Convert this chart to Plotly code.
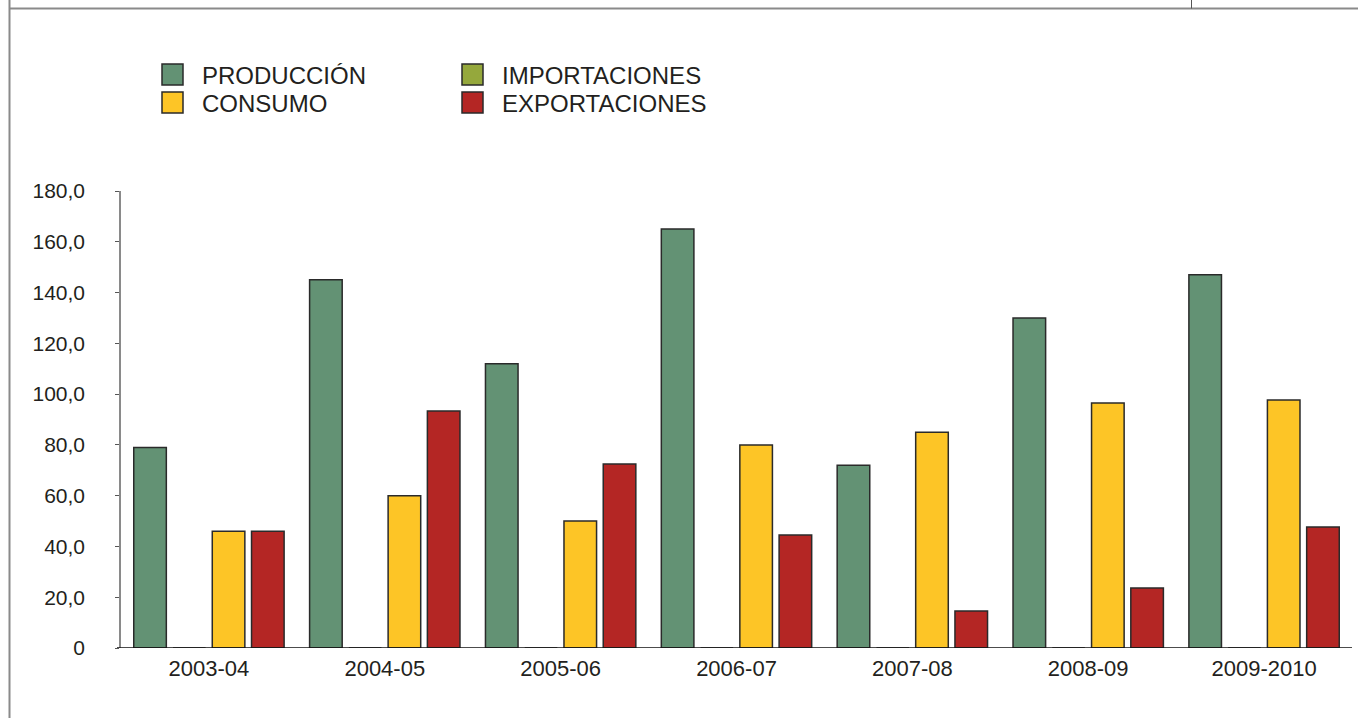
import plotly.graph_objects as go

# Campañas
campanas = ["2003-04", "2004-05", "2005-06", "2006-07", "2007-08", "2008-09", "2009-2010"]

# Series (valores por campaña)
produccion = [79, 145, 112, 165, 72, 130, 147]
importaciones = [0, 0, 0, 0, 0, 0, 0]
consumo = [46, 60, 50, 80, 85, 96.5, 97.7]
exportaciones = [46, 93.3, 72.5, 44.5, 14.6, 23.6, 47.7]

# Eje Y
y_ticks = [0, 20, 40, 60, 80, 100, 120, 140, 160, 180]
y_tick_text = ["0", "20,0", "40,0", "60,0", "80,0", "100,0", "120,0", "140,0", "160,0", "180,0"]

nombres = ["PRODUCCIÓN", "IMPORTACIONES", "CONSUMO", "EXPORTACIONES"]
colores = ["#639274", "#95a83c", "#fdc526", "#b42624"]
series = [produccion, importaciones, consumo, exportaciones]

W, H = 1358, 718
L, R, T, B = 121, 6, 191, 70
PW = W - L - R
PH = H - T - B


def px(x):
    return (x - L) / PW


def py(y):
    return (H - B - y) / PH


fig = go.Figure()
for nombre, color, valores in zip(nombres, colores, series):
    fig.add_trace(go.Bar(
        x=campanas, y=valores, name=nombre,
        marker=dict(color=color, line=dict(color="#2a2a2a", width=1.5)),
        showlegend=False,
    ))

shapes = []
annotations = []

# Marco de la página
gris = "#8a8a8a"
shapes.append(dict(type="line", xref="paper", yref="paper",
                   x0=px(9.5), x1=px(9.5), y0=py(0), y1=py(H), line=dict(color=gris, width=2)))
shapes.append(dict(type="line", xref="paper", yref="paper",
                   x0=px(9.5), x1=px(W), y0=py(8.5), y1=py(8.5), line=dict(color=gris, width=2)))
shapes.append(dict(type="line", xref="paper", yref="paper",
                   x0=px(1191.5), x1=px(1191.5), y0=py(0), y1=py(8.5), line=dict(color="#555555", width=1)))

# Línea base del eje X
shapes.append(dict(type="line", xref="paper", yref="y",
                   x0=px(117), x1=1, y0=0, y1=0, line=dict(color="#111111", width=1.5)))

# Leyenda en dos columnas
pos_leyenda = [(162, 64), (462, 64), (162, 92), (462, 92)]
for (lx, ly), nombre, color in zip(pos_leyenda, nombres, colores):
    shapes.append(dict(type="rect", xref="paper", yref="paper",
                       x0=px(lx), x1=px(lx + 21), y0=py(ly), y1=py(ly + 21),
                       fillcolor=color, line=dict(color="#2a2a2a", width=1.5)))
    annotations.append(dict(xref="paper", yref="paper", x=px(lx + 38), y=py(ly + 11),
                            text=nombre, showarrow=False, xanchor="left", yanchor="middle",
                            font=dict(family="Liberation Sans, Arial", size=24, color="#231f20")))

fig.update_layout(
    width=W, height=H,
    margin=dict(l=L, r=R, t=T, b=B),
    paper_bgcolor="white", plot_bgcolor="white",
    barmode="group", bargap=0.107, bargroupgap=0.17,
    font=dict(family="Liberation Sans, Arial", color="#231f20"),
    shapes=shapes, annotations=annotations,
    xaxis=dict(type="category", showgrid=False, showline=False, ticks="", zeroline=False,
               tickfont=dict(size=22, color="#231f20"), ticklabelstandoff=5),
    yaxis=dict(range=[0, 180], tickvals=y_ticks, ticktext=y_tick_text,
               showgrid=False, zeroline=False, showline=True, linecolor="#8a8a8a", linewidth=1.5,
               ticks="outside", ticklen=4, tickcolor="#555555", tickwidth=1,
               tickfont=dict(size=21, color="#231f20"), ticklabelstandoff=26),
)

fig.write_html("out.html")
